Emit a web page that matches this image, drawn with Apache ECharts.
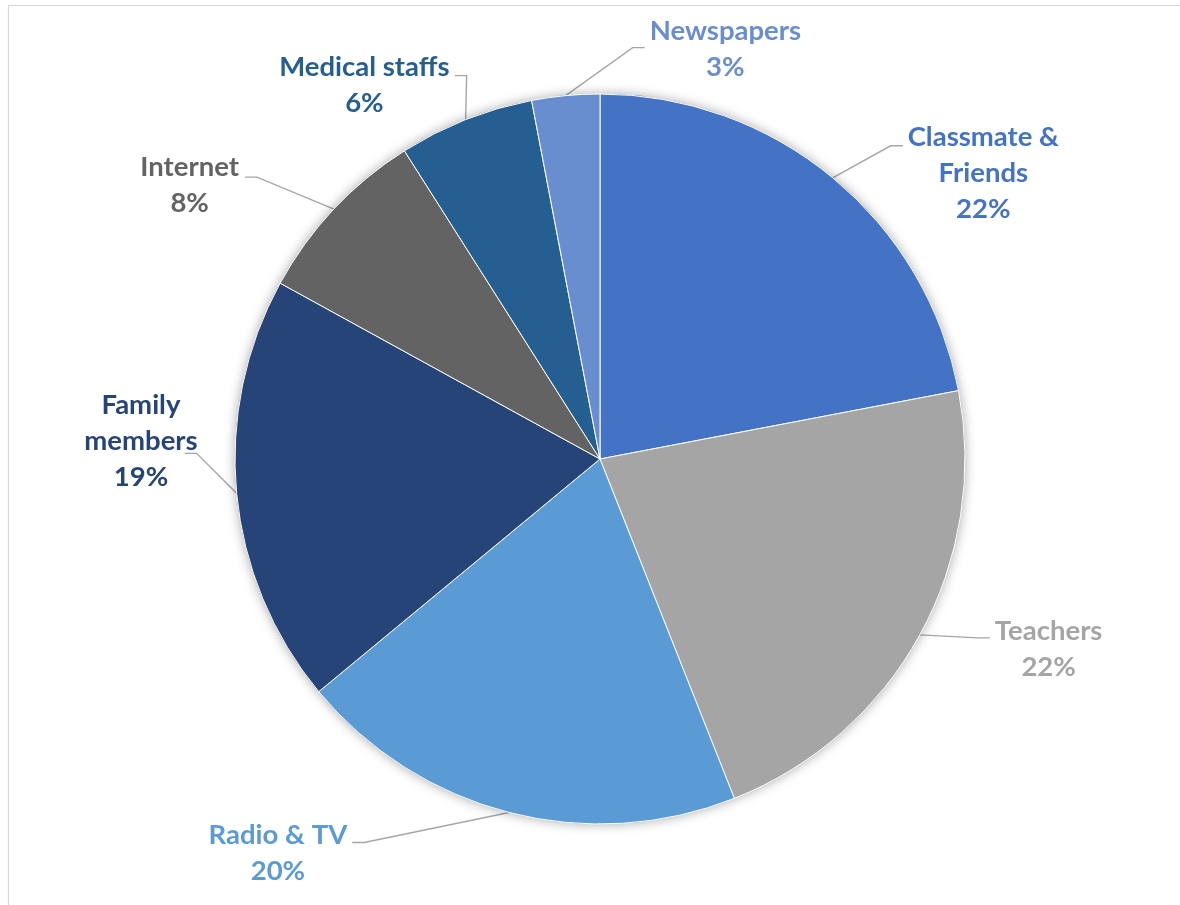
<!DOCTYPE html>
<html>
<head>
<meta charset="utf-8">
<script src="https://cdn.jsdelivr.net/npm/echarts@6/dist/echarts.min.js"></script>
<style>
  html, body { margin: 0; padding: 0; background: #ffffff; }
  #chart { width: 1180px; height: 905px; }
</style>
</head>
<body>
<div id="chart"></div>
<script>
// Sources of information, share of respondents (%)
const categories = ['Classmate &\nFriends', 'Teachers', 'Radio & TV', 'Family\nmembers', 'Internet', 'Medical staffs', 'Newspapers'];
const shares = [22, 22, 20, 19, 8, 6, 3];
const sliceColors = ['#4472C4', '#A5A5A5', '#5B9BD5', '#264478', '#636363', '#255E91', '#698ED0'];

// Leader line end, relative to the slice's outer midpoint; label corner, relative to that end
const leaderOffsets = [[70, -32], [70, 3], [-157, 30], [-52, -40], [-89, -32], [-11, -44], [79, -48]];
const labelOffsets = [[5, -27], [5, -25], [-5, -25], [13, -66], [-6, -28], [-5, -27], [5, -34]];

const pieData = categories.map((name, i) => ({
  name: name,
  value: shares[i],
  itemStyle: { color: sliceColors[i] },
  label: { color: sliceColors[i] }
}));

const chart = echarts.init(document.getElementById('chart'), null, { renderer: 'canvas' });

chart.setOption({
  backgroundColor: '#ffffff',
  animation: false,
  graphic: [{
    type: 'rect',
    silent: true,
    shape: { x: 8.5, y: 5.5, width: 1400, height: 1200 },
    style: { fill: 'none', stroke: '#d9d9d9', lineWidth: 1.2 }
  }],
  series: [
    {
      // soft drop shadow under the whole pie
      type: 'pie',
      silent: true,
      center: [600, 459],
      radius: 365,
      startAngle: 90,
      data: pieData.map(d => ({ name: d.name, value: d.value, itemStyle: d.itemStyle })),
      label: { show: false },
      labelLine: { show: false },
      itemStyle: {
        shadowBlur: 12,
        shadowColor: 'rgba(0,0,0,0.35)',
        shadowOffsetX: 0,
        shadowOffsetY: 0
      }
    },
    {
      type: 'pie',
      center: [600, 459],
      radius: 365,
      startAngle: 90,
      clockwise: true,
      avoidLabelOverlap: false,
      data: pieData,
      itemStyle: { borderColor: '#ffffff', borderWidth: 1 },
      label: {
        show: true,
        position: 'outside',
        formatter: p => p.name.split('\n')
          .concat(Math.round(p.percent) + '%')
          .map(s => '{t|' + s + '}')
          .join('\n'),
        rich: {
          t: {
            align: 'center',
            fontFamily: 'Lato, "Open Sans", sans-serif',
            fontWeight: 'bold',
            fontSize: 27.5,
            lineHeight: 36
          }
        }
      },
      labelLine: {
        show: true,
        smooth: false,
        lineStyle: { color: '#a6a6a6', width: 1.4 }
      },
      labelLayout: function (params) {
        const i = params.dataIndex;
        const p0 = params.labelLinePoints[0];
        const lo = leaderOffsets[i];
        const lb = labelOffsets[i];
        const side = lo[0] < 0 ? -1 : 1;
        const end = [p0[0] + lo[0], p0[1] + lo[1]];
        const elbow = [end[0] - side * 12, end[1]];
        return {
          x: end[0] + lb[0],
          y: end[1] + lb[1],
          align: side < 0 ? 'right' : 'left',
          verticalAlign: 'top',
          labelLinePoints: [p0, elbow, end]
        };
      }
    }
  ]
});
</script>
</body>
</html>
